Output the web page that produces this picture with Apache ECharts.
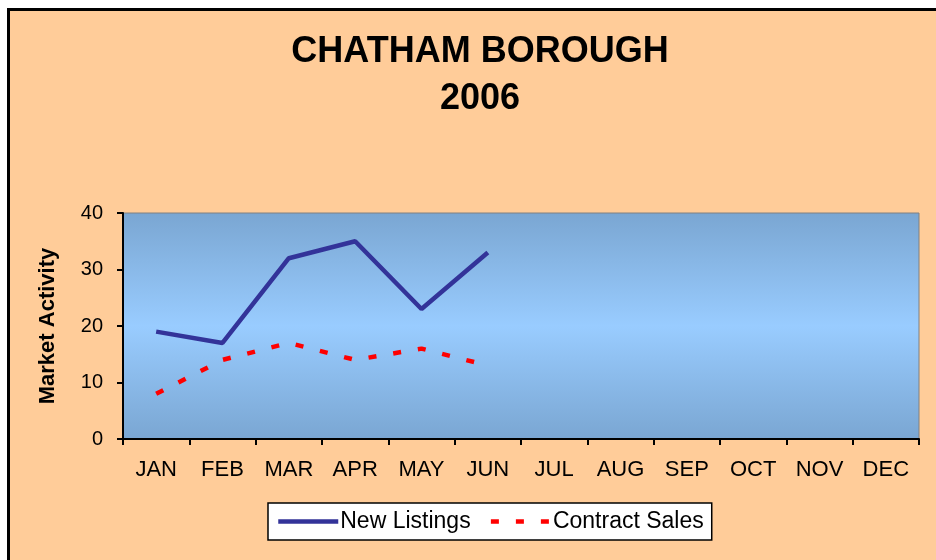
<!DOCTYPE html>
<html>
<head>
<meta charset="utf-8">
<style>
  html, body { margin: 0; padding: 0; background: #fff; }
  #main { width: 936px; height: 560px; }
</style>
<script src="https://cdn.jsdelivr.net/npm/echarts@6/dist/echarts.min.js"></script>
</head>
<body>
<div id="main"></div>
<script>
// data
const months = ['JAN', 'FEB', 'MAR', 'APR', 'MAY', 'JUN', 'JUL', 'AUG', 'SEP', 'OCT', 'NOV', 'DEC']
const newListings = [19, 17, 32, 35, 23, 33]
const contractSales = [8, 14, 17, 14, 16, 13]
const yTicks = [0, 10, 20, 30, 40]

const font = 'Liberation Sans, Arial, sans-serif'
const chart = echarts.init(document.getElementById('main'))

chart.setOption({
  backgroundColor: '#fff',
  textStyle: { fontFamily: font },
  // peach panel with black frame on top / left
  graphic: [{
    type: 'rect',
    z: -100,
    shape: { x: 8.5, y: 9.5, width: 940, height: 560 },
    style: { fill: '#FFCC99', stroke: '#000', lineWidth: 3 },
    silent: true
  }],
  title: {
    text: 'CHATHAM BOROUGH\n2006',
    left: 475,
    top: 24,
    textAlign: 'center',
    textStyle: {
      fontFamily: font,
      fontSize: 36,
      fontWeight: 'bold',
      color: '#000',
      lineHeight: 47
    }
  },
  legend: {
    left: 268,
    top: 503,
    padding: [7, 8, 7, 8],
    itemWidth: 60,
    itemHeight: 14,
    itemGap: 18,
    backgroundColor: '#fff',
    borderColor: '#000',
    borderWidth: 1.5,
    itemStyle: { opacity: 0 },
    lineStyle: { width: 4.5 },
    textStyle: { fontFamily: font, fontSize: 23, color: '#000', padding: [0, 0, 0, -3] },
    data: ['New Listings', 'Contract Sales']
  },
  grid: {
    left: 123,
    right: 17,
    top: 213,
    bottom: 121,
    show: true,
    borderColor: '#808080',
    borderWidth: 1,
    backgroundColor: {
      type: 'linear', x: 0, y: 0, x2: 0, y2: 1,
      colorStops: [
        { offset: 0, color: '#7AA6D2' },
        { offset: 0.5, color: '#99CCFF' },
        { offset: 1, color: '#7AA6D2' }
      ]
    }
  },
  xAxis: {
    type: 'category',
    data: months,
    boundaryGap: true,
    axisLine: { lineStyle: { color: '#000', width: 2 } },
    axisTick: { show: true, interval: 0, length: 6, lineStyle: { color: '#000', width: 2 } },
    axisLabel: { interval: 0, color: '#000', fontSize: 22, margin: 20, fontFamily: font },
    splitLine: { show: false }
  },
  yAxis: {
    type: 'value',
    min: yTicks[0],
    max: yTicks[yTicks.length - 1],
    interval: 10,
    name: 'Market Activity',
    nameLocation: 'middle',
    nameGap: 64,
    nameTextStyle: { color: '#000', fontSize: 22, fontWeight: 'bold', fontFamily: font },
    axisLine: { show: true, lineStyle: { color: '#000', width: 2 } },
    axisTick: { show: true, length: 6, lineStyle: { color: '#000', width: 2 } },
    axisLabel: { color: '#000', fontSize: 20, margin: 20, fontFamily: font },
    splitLine: { show: false }
  },
  series: [
    {
      name: 'New Listings',
      type: 'line',
      data: newListings,
      symbol: 'none',
      lineStyle: { color: '#333399', width: 4.5 },
      itemStyle: { color: '#333399' }
    },
    {
      name: 'Contract Sales',
      type: 'line',
      data: contractSales,
      symbol: 'none',
      lineStyle: { color: '#FF0000', width: 4.5, type: [8, 17] },
      itemStyle: { color: '#FF0000' }
    }
  ]
})
</script>
</body>
</html>
